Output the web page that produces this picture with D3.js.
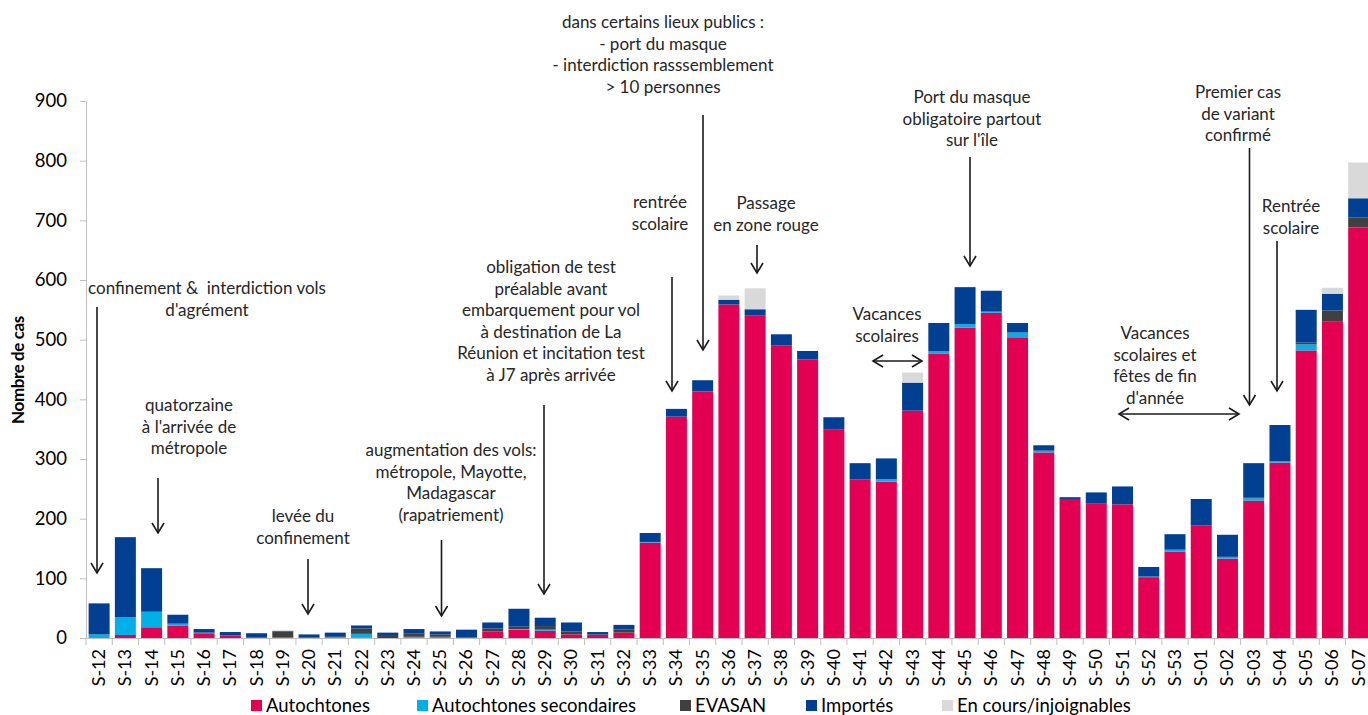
<!DOCTYPE html>
<html><head><meta charset="utf-8">
<script src="https://cdn.jsdelivr.net/npm/d3@7"></script>
<style>
html,body{margin:0;padding:0;background:#fff;}
svg{display:block;font-family:Lato,"Open Sans",sans-serif;}
</style></head>
<body>
<svg id="chart" width="1368" height="715"></svg>
<script>
const categories = ["S-12","S-13","S-14","S-15","S-16","S-17","S-18","S-19","S-20","S-21","S-22","S-23","S-24","S-25","S-26","S-27","S-28","S-29","S-30","S-31","S-32","S-33","S-34","S-35","S-36","S-37","S-38","S-39","S-40","S-41","S-42","S-43","S-44","S-45","S-46","S-47","S-48","S-49","S-50","S-51","S-52","S-53","S-01","S-02","S-03","S-04","S-05","S-06","S-07"];
const autochtones =  [0,5,18,21,8,4,0,1,0,0,1,0,1,0,0,11,14,12,6,5,9,160,371,413,559,541,490,467,350,266,262,381,477,520,545,504,311,233,226,224,102,145,189,133,230,294,482,530,688];
const autoSecondaires = [6,30,26,3,1,0,0,0,0,1,6,0,1,2,0,0,1,2,0,0,0,1,0,0,0,0,0,0,0,0,4,0,4,6,2,8,3,0,0,0,1,3,0,3,4,2,10,0,0];
const evasan =       [0,0,0,0,0,1,1,10,1,1,9,5,6,4,1,5,4,6,5,1,5,0,0,1,0,0,0,0,0,0,0,0,0,0,0,0,0,0,0,0,0,0,0,0,2,0,3,19,17];
const importes =     [52,134,73,15,6,5,7,1,5,7,5,4,7,5,13,10,30,14,15,4,8,15,13,18,8,10,19,14,20,27,35,47,47,62,35,16,9,3,18,30,16,26,44,37,57,61,55,28,32];
const enCours =      [0,0,0,0,0,0,0,0,0,0,0,0,0,0,0,0,0,0,0,0,0,0,0,0,7,35,0,0,0,0,0,17,0,0,0,0,0,0,0,0,0,0,0,0,0,0,0,10,60];
const yTicks = [0,100,200,300,400,500,600,700,800,900];
const seriesNames = ["Autochtones","Autochtones secondaires","EVASAN","Importés","En cours/injoignables"];
const seriesColors = ["#E30052","#00B0E6","#404040","#003F92","#D9D9D9"];

const seriesValues = [autochtones, autoSecondaires, evasan, importes, enCours];
const keys = ["a","b","c","d","e"];
const table = categories.map((c,i)=>{const o={cat:c}; keys.forEach((k,j)=>o[k]=seriesValues[j][i]); return o;});

const svg = d3.select("#chart");
const mLeft = 86, mRight = 1371.8, mTop = 101, mBottom = 638;
const x = d3.scaleBand().domain(categories).range([mLeft,mRight]).paddingInner(0.2).paddingOuter(0.1);
const y = d3.scaleLinear().domain([0,900]).range([mBottom,mTop]);

// bars
const stack = d3.stack().keys(keys)(table);
svg.append("g").selectAll("g").data(stack).join("g")
  .attr("fill",(d,i)=>seriesColors[i])
  .selectAll("rect").data(d=>d).join("rect")
  .attr("x",d=>x(d.data.cat))
  .attr("width",x.bandwidth())
  .attr("y",d=>y(d[1]))
  .attr("height",d=>Math.max(0,y(d[0])-y(d[1])));

// y axis
const yAxis = svg.append("g").attr("transform",`translate(${mLeft},0)`)
  .call(d3.axisLeft(y).tickValues(yTicks).tickSize(6).tickSizeOuter(0).tickPadding(13));
yAxis.select(".domain").attr("stroke","#BFBFBF");
yAxis.selectAll(".tick line").attr("stroke","#BFBFBF");
yAxis.selectAll(".tick text").attr("font-size",18.5).attr("fill","#000").attr("font-family","Lato");

// x axis
const step = x.step();
const xg = svg.append("g");
xg.append("line").attr("x1",mLeft).attr("x2",1368).attr("y1",mBottom+0.5).attr("y2",mBottom+0.5).attr("stroke","#BFBFBF");
xg.selectAll("line.tk").data(categories).join("line").attr("class","tk")
  .attr("x1",d=>x(d)-(step-x.bandwidth())/2).attr("x2",d=>x(d)-(step-x.bandwidth())/2)
  .attr("y1",mBottom).attr("y2",mBottom+7).attr("stroke","#BFBFBF");
xg.selectAll("text").data(categories).join("text")
  .attr("transform",d=>`translate(${x(d)+x.bandwidth()/2+6},${mBottom+11}) rotate(-90)`)
  .attr("text-anchor","end").attr("font-size",18).attr("fill","#000").text(d=>d);

// y label
svg.append("text").attr("transform","translate(24,370) rotate(-90)")
  .attr("text-anchor","middle").attr("font-size",17).attr("font-weight","bold")
  .attr("letter-spacing","-0.4").attr("fill","#000").text("Nombre de cas");

// legend
const legendX = [251,417,680,806,942];
const lg = svg.append("g");
seriesNames.forEach((n,i)=>{
  lg.append("rect").attr("x",legendX[i]).attr("y",700).attr("width",11).attr("height",11).attr("fill",seriesColors[i]);
  lg.append("text").attr("x",legendX[i]+15).attr("y",712).attr("font-size",18.5).attr("fill","#000").text(n);
});

// annotations
const notes = [
  {x:207,y:288,lines:["confinement &\u00a0 interdiction vols","d'agrément"]},
  {x:189,y:405,lines:["quatorzaine","à l'arrivée de","métropole"]},
  {x:303,y:516,lines:["levée du","confinement"]},
  {x:451,y:450,lines:["augmentation des vols:","métropole, Mayotte,","Madagascar","(rapatriement)"]},
  {x:551,y:267,lines:["obligation de test","préalable avant","embarquement pour vol","à destination de La","Réunion et incitation test","à J7 après arrivée"]},
  {x:663,y:22,lines:["dans certains lieux publics :","- port du masque","- interdiction rasssemblement","> 10 personnes"]},
  {x:660,y:202,lines:["rentrée","scolaire"]},
  {x:766,y:203,lines:["Passage","en zone rouge"]},
  {x:887,y:314,lines:["Vacances","scolaires"]},
  {x:972,y:97,lines:["Port du masque","obligatoire partout","sur l'île"]},
  {x:1155,y:333,lines:["Vacances","scolaires et","fêtes de fin","d'année"]},
  {x:1238,y:92,lines:["Premier cas","de variant","confirmé"]},
  {x:1291,y:206,lines:["Rentrée","scolaire"]}
];
const ng = svg.append("g").attr("font-size",17).attr("fill","#262626").attr("text-anchor","middle");
notes.forEach(n=>{
  n.lines.forEach((l,i)=>{
    ng.append("text").attr("x",n.x).attr("y",n.y+i*21.6).attr("dy","0.35em").text(l);
  });
});

// arrows
const arrows = [
  [97,307,97,573],[158,478,158,533],[308,559,308,614],[441.5,540,441.5,616],
  [544,405,544,594],[703,115,703,350],[672,277,672,391],[757,245,757,273],
  [970,157,970,266],[1249.5,148,1249.5,405],[1277,241,1277,391]
];
const ag = svg.append("g").attr("stroke","#1a1a1a").attr("fill","none").attr("stroke-width",1.6);
function head(x0,y0,dx,dy){
  const L=10,W=6; const len=Math.hypot(dx,dy); const ux=dx/len, uy=dy/len;
  const px=-uy, py=ux;
  return `M${x0-ux*L+px*W},${y0-uy*L+py*W}L${x0},${y0}L${x0-ux*L-px*W},${y0-uy*L-py*W}`;
}
arrows.forEach(a=>{
  ag.append("line").attr("x1",a[0]).attr("y1",a[1]).attr("x2",a[2]).attr("y2",a[3]);
  ag.append("path").attr("d",head(a[2],a[3],a[2]-a[0],a[3]-a[1]));
});
const dbl = [[873,361,922,361],[1119,414,1239,414]];
dbl.forEach(a=>{
  ag.append("line").attr("x1",a[0]).attr("y1",a[1]).attr("x2",a[2]).attr("y2",a[3]);
  ag.append("path").attr("d",head(a[2],a[3],1,0));
  ag.append("path").attr("d",head(a[0],a[1],-1,0));
});
</script>
</body></html>
